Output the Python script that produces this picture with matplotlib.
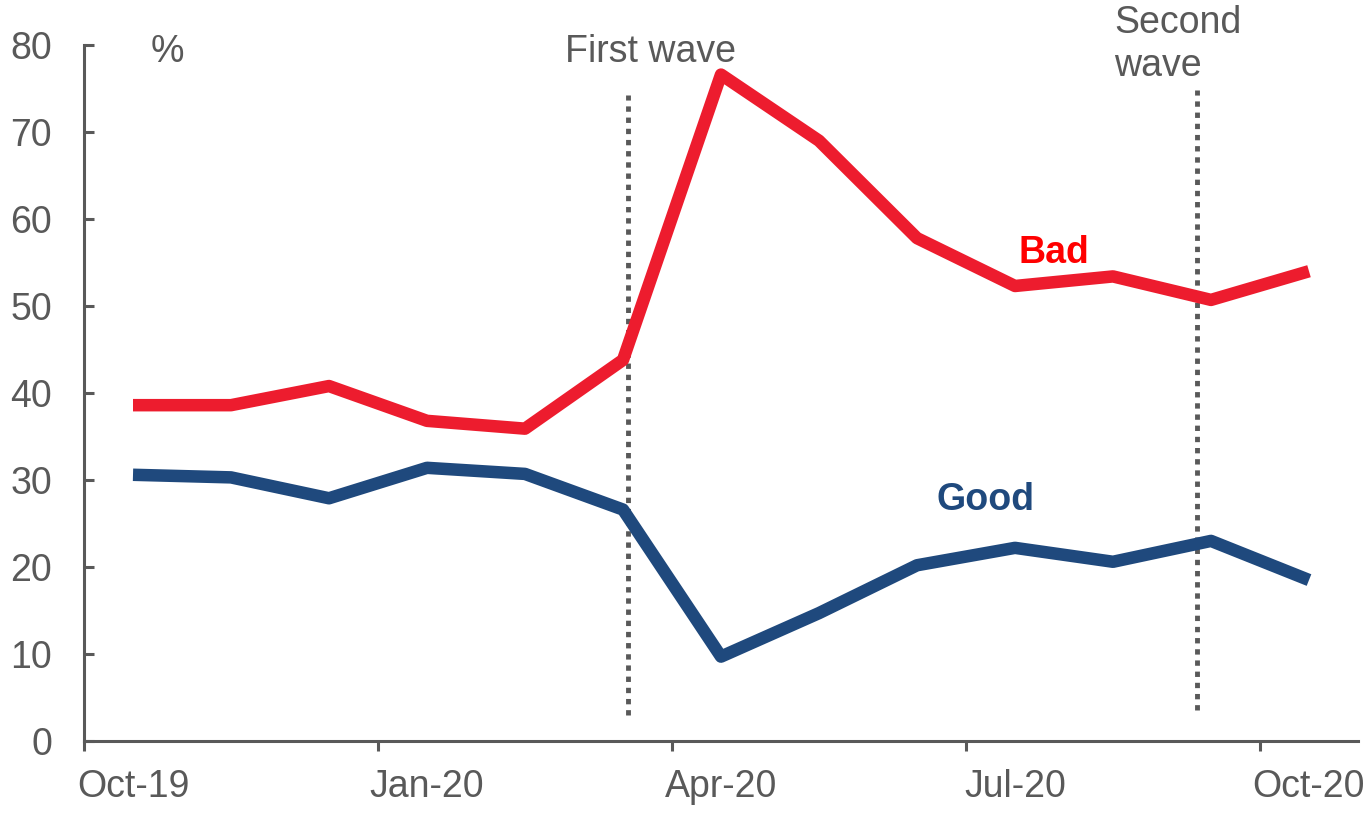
import matplotlib
matplotlib.use("Agg")
import matplotlib.pyplot as plt
import numpy as np

months = ["Oct-19", "Nov-19", "Dec-19", "Jan-20", "Feb-20", "Mar-20", "Apr-20",
          "May-20", "Jun-20", "Jul-20", "Aug-20", "Sep-20", "Oct-20"]
bad = [38.6, 38.6, 40.8, 36.8, 35.9, 43.8, 76.6, 69.0, 57.8, 52.3, 53.4, 50.7, 54.0]
good = [30.6, 30.3, 27.9, 31.4, 30.7, 26.6, 9.7, 14.7, 20.2, 22.2, 20.6, 23.0, 18.5]
label_months = ["Oct-19", "Jan-20", "Apr-20", "Jul-20", "Oct-20"]
yticks = [0, 10, 20, 30, 40, 50, 60, 70, 80]

GRAY = "#595959"
RED = "#ED1C2E"
BLUE = "#1F497D"

plt.rcParams['font.family'] = ['Liberation Sans', 'DejaVu Sans']

fig = plt.figure(figsize=(13.71, 8.14), dpi=100)
ax = fig.add_axes([84/1371, 73/814, (1358-84)/1371, (741-45)/814])

x = np.arange(len(months))
ax.plot(x, bad, color=RED, lw=9, solid_joinstyle='round', solid_capstyle='butt', zorder=3)
ax.plot(x, good, color=BLUE, lw=9, solid_joinstyle='round', solid_capstyle='butt', zorder=3)

ax.set_xlim(-0.5, len(months) - 0.5)
ax.set_ylim(0, 80)

# wave markers
ax.plot([5.05, 5.05], [3.0, 74.3], color=GRAY, lw=3.5, linestyle=(0, (1.1, 1.2)),
        dash_capstyle='butt', zorder=2)
ax.plot([10.86, 10.86], [3.6, 74.8], color=GRAY, lw=3.5, linestyle=(0, (1.1, 1.2)),
        dash_capstyle='butt', zorder=2)

ax.text(5.28, 79.2, "First wave", color=GRAY, fontsize=27, ha='center', va='center')
ax.text(10.01, 80.1, "Second\nwave", color=GRAY, fontsize=27, ha='left', va='center',
        linespacing=1.25, clip_on=False)
ax.text(0.35, 79.2, "%", color=GRAY, fontsize=27, ha='center', va='center')
ax.text(9.4, 56.1, "Bad", color="#FF0000", fontsize=27, fontweight='bold', ha='center', va='center')
ax.text(8.7, 27.7, "Good", color=BLUE, fontsize=27, fontweight='bold', ha='center', va='center')

# spines
for s in ['top', 'right']:
    ax.spines[s].set_visible(False)
for s in ['left', 'bottom']:
    ax.spines[s].set_color(GRAY)
    ax.spines[s].set_linewidth(2.2)

# y ticks (inside)
ax.set_yticks(yticks)
ax.set_yticklabels([str(v) for v in yticks])
ax.tick_params(axis='y', direction='in', length=7, width=2.2, color=GRAY,
               labelcolor=GRAY, labelsize=27, pad=23)

# x ticks: labels at centres, tick marks at boundaries
label_pos = [months.index(m) for m in label_months]
ax.set_xticks(label_pos)
ax.set_xticklabels(label_months)
ax.set_xticks([p - 0.5 for p in label_pos], minor=True)
ax.tick_params(axis='x', which='major', length=0, labelcolor=GRAY, labelsize=27, pad=20)
ax.tick_params(axis='x', which='minor', direction='out', length=7, width=2.2, color=GRAY)

fig.savefig("out.png", dpi=100)
